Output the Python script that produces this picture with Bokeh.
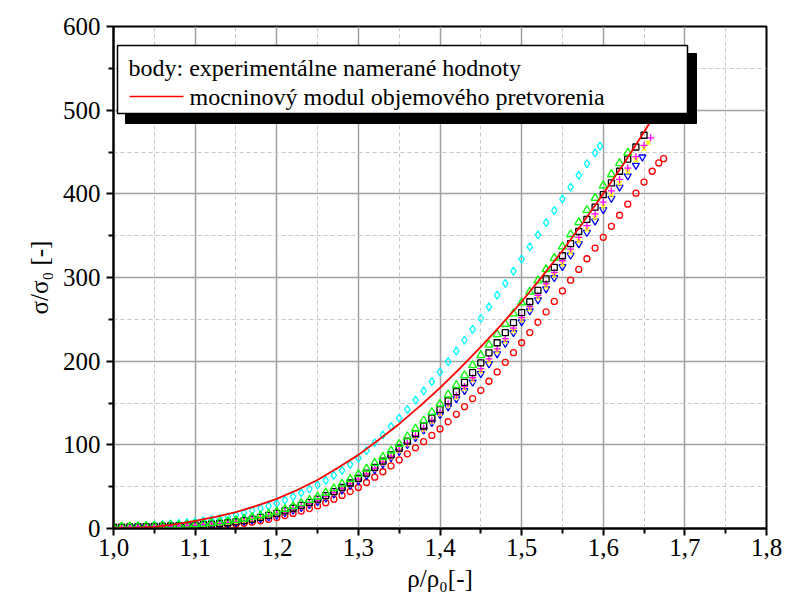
from bokeh.plotting import figure
from bokeh.models import (FixedTicker, BoxAnnotation, Label, Range1d, Title,
                          CustomJSTickFormatter)
from bokeh.embed import file_html
from bokeh.resources import INLINE

# shared x grid (rho/rho0)
XG = [1.00, 1.01, 1.02, 1.03, 1.04, 1.05, 1.06, 1.07, 1.08, 1.09,
      1.10, 1.11, 1.12, 1.13, 1.14, 1.15, 1.16, 1.17, 1.18, 1.19,
      1.20, 1.21, 1.22, 1.23, 1.24, 1.25, 1.26, 1.27, 1.28, 1.29,
      1.30, 1.31, 1.32, 1.33, 1.34, 1.35, 1.36, 1.37, 1.38, 1.39,
      1.40, 1.41, 1.42, 1.43, 1.44, 1.45, 1.46, 1.47, 1.48, 1.49,
      1.50, 1.51, 1.52, 1.53, 1.54, 1.55, 1.56, 1.57, 1.58, 1.59,
      1.60, 1.61, 1.62, 1.63, 1.64, 1.65, 1.66]

CYAN_Y = [2.0, 2.3, 2.7, 3.1, 3.5, 4.0, 4.7, 5.4, 6.2, 7.0,
          8.0, 9.3, 10.7, 12.2, 14.0, 16.0, 18.5, 21.2, 24.0, 27.0,
          30.0, 34.0, 38.2, 42.6, 47.2, 52.0, 57.6, 63.4, 69.6, 76.6,
          84.0, 93, 102.5, 112, 122, 132, 142.5, 153.5, 164.5, 175.5,
          187, 199.5, 212, 225, 238, 251, 265, 279, 293, 307.5,
          322, 336.5, 351, 365.5, 380, 394, 408, 422, 436, 449]
CYAN_TAIL_X = [1.596]
CYAN_TAIL_Y = [457]

GREEN_Y = [2.0, 2.2, 2.4, 2.6, 2.8, 3.0, 3.3, 3.7, 4.1, 4.5,
           5.0, 5.7, 6.5, 7.4, 8.6, 10.0, 11.7, 13.6, 15.6, 17.7,
           20.0, 23.2, 26.6, 30.2, 34.0, 38.0, 42.8, 48.0, 53.4, 59.0,
           65.0, 71.5, 78.3, 85.5, 93, 101, 110, 119.3, 129, 139,
           149, 160, 171.3, 183, 195, 207, 219.5, 232, 244.5, 257,
           270, 283, 296.3, 309.8, 323.3, 337, 351.5, 366, 380.5, 395,
           410, 423.5, 436.5, 449]

BLACK_Y = [1.5, 1.7, 1.9, 2.1, 2.3, 2.5, 2.7, 3.0, 3.3, 3.6,
           4.0, 4.6, 5.3, 6.0, 6.9, 8.0, 9.5, 11.2, 13.4, 15.6,
           18.0, 21.0, 24.2, 27.6, 31.2, 35.0, 39.4, 44.0, 49.0, 54.4,
           60.0, 66.3, 73.0, 80.5, 88, 96, 104.5, 113.3, 122.5, 132,
           142, 152.6, 163.5, 174.7, 186.2, 198, 210, 222, 234, 246,
           258, 271, 284.5, 298.3, 312, 326, 340.5, 355, 369.5, 384,
           399, 413, 427, 441.5, 456, 470]

MAGENTA_Y = [1.5, 1.7, 1.9, 2.1, 2.3, 2.5, 2.7, 3.0, 3.3, 3.6,
             4.0, 4.5, 5.1, 5.8, 6.8, 8.0, 9.4, 11.0, 12.8, 14.8,
             17.0, 19.8, 23.0, 26.4, 30.0, 34.0, 38.4, 43.0, 48.0, 53.4,
             59.0, 65.2, 72.0, 79.0, 86.3, 94, 102.3, 111, 120, 129.4,
             139, 149, 159.2, 169.6, 180.2, 191, 202.8, 214.8, 227, 239.5,
             252, 265.3, 278.8, 292.4, 306.2, 320, 334, 348, 362, 376,
             390, 403.6, 417.2, 430.8, 444.4, 458]
MAGENTA_TAIL_X = [1.658]
MAGENTA_TAIL_Y = [467]

YELLOW_Y = [1.0, 1.2, 1.4, 1.6, 1.8, 2.0, 2.2, 2.5, 2.8, 3.1,
            3.5, 4.0, 4.6, 5.3, 6.3, 7.5, 8.9, 10.4, 12.3, 14.3,
            16.5, 19.2, 22.3, 25.6, 29.2, 33.0, 37.4, 42.0, 47.0, 52.4,
            58.0, 64.2, 71.0, 78.0, 85.3, 93, 101, 109.5, 118.3, 127.5,
            137, 146.8, 156.8, 167, 177.4, 188, 199.6, 211.5, 223.6, 236.2,
            249, 262.2, 275.6, 289, 302.5, 316, 329.8, 343.6, 357.4, 371.2,
            385, 398.8, 412.6, 426.4, 440.2, 454]
YELLOW_TAIL_X = [1.655]
YELLOW_TAIL_Y = [461]

BLUE_Y = [1.0, 1.2, 1.4, 1.6, 1.8, 2.0, 2.2, 2.4, 2.6, 2.8,
          3.0, 3.5, 4.1, 4.8, 5.8, 7.0, 8.4, 10.0, 11.8, 13.8,
          16.0, 18.8, 21.8, 25.0, 28.4, 32.0, 36.4, 41.0, 46.0, 51.4,
          57.0, 63.2, 70.0, 77.0, 84.3, 92, 100.2, 108.6, 117.5, 126.6,
          136, 145.4, 155, 164.8, 174.8, 185, 196.7, 208.8, 221.2, 234,
          247, 260, 273.2, 286.4, 299.7, 313, 326.6, 340.2, 353.8, 367.4,
          381, 394.5, 408, 421.4, 434]
BLUE_TAIL_X = [1.648]
BLUE_TAIL_Y = [444]

RED_Y = [0.5, 0.6, 0.7, 0.8, 0.9, 1.0, 1.2, 1.4, 1.6, 1.8,
         2.0, 2.4, 2.9, 3.5, 4.2, 5.0, 6.2, 7.6, 9.2, 11.0,
         13.0, 15.4, 18.0, 20.8, 23.8, 27.0, 30.8, 35, 39.5, 44.2,
         49, 55, 61.3, 67.8, 74.8, 82, 89.2, 96.4, 103.8, 111.3,
         119, 127.6, 136.5, 145.6, 155.2, 165, 176, 187.2, 198.6, 210.2,
         222, 234.2, 246.5, 258.8, 271.4, 284, 296.8, 309.6, 322.4, 335.2,
         348, 361.2, 374.4, 387.6, 400.8, 414, 427]
RED_TAIL_X = [1.668, 1.674]
RED_TAIL_Y = [437, 442]

FIT_X = [1.0, 1.025, 1.05, 1.075, 1.1, 1.125, 1.15, 1.175, 1.2, 1.225,
         1.25, 1.275, 1.3, 1.325, 1.35, 1.375, 1.4, 1.425, 1.45, 1.475,
         1.5, 1.525, 1.55, 1.575, 1.6, 1.625, 1.65, 1.675, 1.7]
FIT_Y = [0, 0.6, 2, 5, 9, 14, 19.5, 27, 35.5, 46,
         58, 72.5, 88, 106, 125, 146, 168, 192, 217, 243.5,
         271, 301, 332, 365.5, 400, 436, 474, 514, 555]

X_TICKS = [1.0, 1.1, 1.2, 1.3, 1.4, 1.5, 1.6, 1.7, 1.8]
X_MINOR = [1.05, 1.15, 1.25, 1.35, 1.45, 1.55, 1.65, 1.75]
Y_TICKS = [0, 100, 200, 300, 400, 500, 600]
Y_MINOR = [50, 150, 250, 350, 450, 550]

X_TITLE = "ρ/ρ₀[-]"
Y_TITLE = "σ/σ₀ [-]"
LEGEND_1 = "body: experimentálne namerané hodnoty"
LEGEND_2 = "mocninový modul objemového pretvorenia"

SERIF = "Times New Roman"

p = figure(width=784, height=606, x_range=Range1d(1.0, 1.8), y_range=Range1d(0, 600),
           output_backend="svg", toolbar_location=None,
           min_border_left=113, min_border_right=18, min_border_top=26,
           min_border_bottom=78)
p.background_fill_color = "white"
p.border_fill_color = "white"
p.outline_line_color = "black"
p.outline_line_width = 2
p.outline_line_alpha = 1

p.xaxis.ticker = FixedTicker(ticks=X_TICKS, minor_ticks=X_MINOR)
p.yaxis.ticker = FixedTicker(ticks=Y_TICKS, minor_ticks=Y_MINOR)
p.xaxis.formatter = CustomJSTickFormatter(code="return tick.toFixed(1).replace('.', ',');")

p.axis.axis_line_width = 2
p.axis.axis_line_color = "black"
p.axis.major_tick_line_width = 2
p.axis.major_tick_line_color = "black"
p.axis.major_tick_out = 7
p.axis.major_tick_in = 0
p.axis.minor_tick_line_width = 2
p.axis.minor_tick_line_color = "black"
p.axis.minor_tick_out = 5
p.axis.minor_tick_in = 0

p.xaxis.major_label_text_font = SERIF
p.yaxis.major_label_text_font = SERIF
p.xaxis.major_label_text_font_size = "25px"
p.yaxis.major_label_text_font_size = "25px"
p.xaxis.major_label_text_color = "black"
p.yaxis.major_label_text_color = "black"
p.xaxis.major_label_standoff = 3
p.yaxis.major_label_standoff = 6

# axis titles as side-panel titles
p.add_layout(Title(text=X_TITLE, align="center", text_font=SERIF, text_font_size="25px",
                   text_font_style="normal", text_color="black", standoff=8), "below")
p.add_layout(Title(text=Y_TITLE, align="center", text_font=SERIF, text_font_size="25px",
                   text_font_style="normal", text_color="black", standoff=14), "left")

p.grid.grid_line_color = "#a0a0a0"
p.grid.grid_line_width = 1.5
p.grid.minor_grid_line_color = "#c8c8c8"
p.grid.minor_grid_line_width = 1
p.grid.minor_grid_line_dash = "4 3"

p.scatter(XG[:len(CYAN_Y)] + CYAN_TAIL_X, CYAN_Y + CYAN_TAIL_Y, marker="diamond", size=8,
          fill_color=None, line_color="#00ffff", line_width=1.3)
p.scatter(XG[:len(RED_Y)] + RED_TAIL_X, RED_Y + RED_TAIL_Y, marker="circle", size=6,
          fill_color=None, line_color="#ff0000", line_width=1.3)
p.scatter(XG[:len(BLUE_Y)] + BLUE_TAIL_X, BLUE_Y + BLUE_TAIL_Y, marker="inverted_triangle",
          size=7, fill_color=None, line_color="#0000ff", line_width=1.3)
p.scatter(XG[:len(YELLOW_Y)] + YELLOW_TAIL_X, YELLOW_Y + YELLOW_TAIL_Y, marker="x", size=6,
          line_color="#ffff00", line_width=1.6)
p.scatter(XG[:len(MAGENTA_Y)] + MAGENTA_TAIL_X, MAGENTA_Y + MAGENTA_TAIL_Y, marker="cross",
          size=7, line_color="#ff00ff", line_width=1.3)
p.scatter(XG[:len(BLACK_Y)], BLACK_Y, marker="square", size=6,
          fill_color=None, line_color="black", line_width=1.3)
p.scatter(XG[:len(GREEN_Y)], GREEN_Y, marker="triangle", size=8,
          fill_color=None, line_color="#00ff00", line_width=1.3)
p.line(FIT_X, FIT_Y, line_color="#ff0000", line_width=1.8)

# pixel helpers for legend placement (frame: x 113..766, y 26..528)
def px2x(px):
    return 1.0 + (px - 113) / 816.25

def py2v(py):
    return (528 - py) / (502 / 600)

shadow = BoxAnnotation(left=px2x(125), right=px2x(696), top=py2v(53), bottom=py2v(123),
                       fill_color="black", fill_alpha=1, line_color="black", line_alpha=1,
                       level="annotation")
box = BoxAnnotation(left=px2x(117), right=px2x(687), top=py2v(45), bottom=py2v(113),
                    fill_color="white", fill_alpha=1, line_color="black", line_width=1.5,
                    line_alpha=1, level="annotation")
p.add_layout(shadow)
p.add_layout(box)
p.line([px2x(129), px2x(183)], [py2v(96), py2v(96)], line_color="#ff0000",
       line_width=1.5, level="overlay")
lab1 = Label(x=px2x(128), y=py2v(67), text=LEGEND_1, text_font=SERIF,
             text_font_size="24px", text_baseline="middle", text_align="left",
             text_color="black", level="overlay")
lab2 = Label(x=px2x(189), y=py2v(96), text=LEGEND_2, text_font=SERIF,
             text_font_size="24px", text_baseline="middle", text_align="left",
             text_color="black", level="overlay")
p.add_layout(lab1)
p.add_layout(lab2)

open("out.html", "w").write(file_html(p, INLINE))
